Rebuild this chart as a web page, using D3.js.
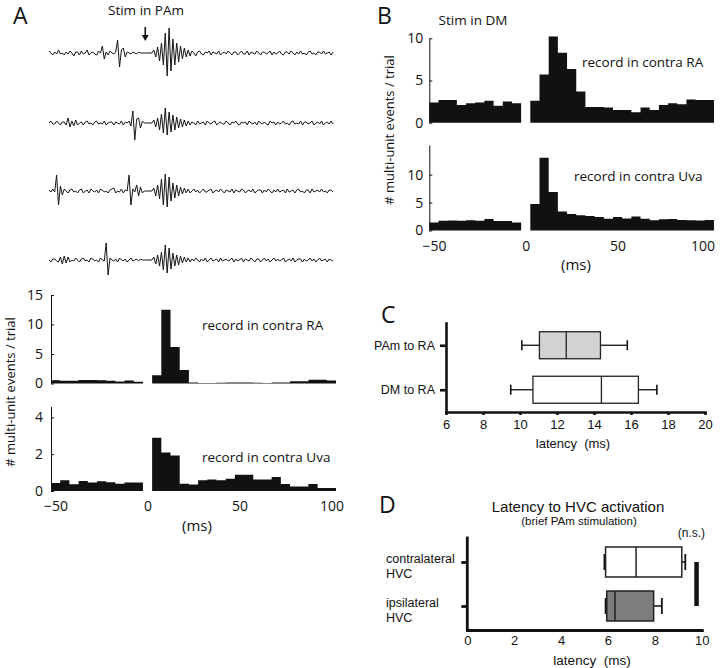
<!DOCTYPE html>
<html><head><meta charset="utf-8">
<script src="https://cdn.jsdelivr.net/npm/d3@7"></script>
<style>body{margin:0;background:#fff} svg{display:block}</style>
</head><body>
<svg id="c" width="720" height="668"></svg>
<script>
// ---------------- DATA ----------------
// PSTH bin centres (ms), 5 ms bins
const binCenters = [-50,-45,-40,-35,-30,-25,-20,-15,-10,-5,0,5,10,15,20,25,30,35,40,45,50,55,60,65,70,75,80,85,90,95,100];
const binWidth = 5;
const psthXTicks = [-50, 0, 50, 100];

// Panel A: stim in PAm
const aRA  = [0.55,0.45,0.45,0.6,0.6,0.55,0.45,0.35,0.5,0.3,0,1.4,12.5,6.2,2.3,0.15,0.1,0.1,0.12,0.15,0.15,0.15,0.12,0.1,0.15,0.15,0.4,0.4,0.65,0.65,0.5];
const aUva = [0.44,0.58,0.37,0.55,0.46,0.53,0.47,0.4,0.46,0.46,0,2.9,2.1,1.93,0.4,0.35,0.58,0.62,0.58,0.67,0.89,0.89,0.62,0.62,0.76,0.38,0.24,0.24,0.38,0.16,0.16];
const aRATicks = [0,5,10,15];
const aUvaTicks = [0,2,4];

// Panel B: stim in DM
const bRA  = [2.4,2.7,2.7,2.1,2.3,2.4,2.6,2.0,2.5,2.3,0,2.6,5.7,10.2,8.3,6.35,3.7,1.85,1.85,1.8,1.5,1.5,1.25,1.8,1.5,2.1,2.3,2.2,2.75,2.7,2.7];
const bUva = [1.45,1.75,1.8,1.75,1.85,1.75,2.05,1.7,1.7,1.45,0,4.75,13.0,6.9,3.4,2.95,2.75,2.6,2.4,2.1,2.4,2.15,2.5,2.1,1.85,2.0,2.05,1.9,1.85,1.8,1.9];
const bRATicks = [0,5,10];
const bUvaTicks = [0,5,10];

// Panel A raw traces (1 ms samples from traceStart)
const traceStart = -52, traceStep = 1, stimTime = -1.5;
const trace1 = [2,0,-2,1,-1,3,-1,0,-2,1, -1,2,0,-3,1,1,-2,2,-1,0, 3,-2,0,1,-1,-2,2,0,7,-6, 1,-2,2,0,-1,1,13,-14,3,5, -4,1,0,-1,1,0,-1,1,0,0, 0,0,0,0,0,
 3,-4,6,-8,10,-12,20,-23,25,-18, 14,-12,10,-9,7,-6,5,-4,3,-3, 2,0,-3,1,2,-1,-2,1,0,2, -2,1,0,-1,2,-2,0,1,-1,2, 0,-2,1,1,-2,0,2,-1,-1,2, -2,1,0,-1,2,0,-2,1,1,-1,
 0,2,-2,1,-1,0,2,-1,-2,1, 1,-1,2,0,-2,1,-1,2,-1,0, -2,1,2,-1,0,-2,1,1,-1,2, -1,0,1,-2,1];
const trace2 = [0,2,-1,-1,2,0,-2,1,1,-2, 5,-4,2,-3,3,-2,0,1,-2,1, 2,-1,0,-2,1,2,-1,0,-1,2, -2,0,1,1,-2,1,0,-1,2,-2, 1,0,2,-3,12,-17,4,5,-5,2, 0,0,0,0,0,
 3,-4,5,-7,9,-10,15,-12,11,-9, 8,-7,6,-5,4,-4,3,-3,2,-2, 1,0,-2,2,-1,0,1,-2,2,0, -1,1,2,-2,0,1,-1,-1,2,0, -2,1,0,2,-1,-2,1,0,1,-2, 2,0,-1,1,-2,2,0,-1,1,-1,
 -2,2,0,1,-2,1,-1,0,2,-1, 0,-2,1,2,-1,0,-1,2,-2,1, 1,-1,0,2,-2,0,1,-1,2,-2, 0,1,-1,2,-1];
const trace3 = [1,-1,2,-1,16,-14,5,-4,2,0, -2,1,2,-1,0,-2,1,2,-2,0, 1,-2,2,0,-1,1,-2,2,1,-1, 0,-2,1,2,3,-2,0,-1,2,-2, 1,0,16,-14,2,-1,6,-5,4,-2, 0,0,0,0,0,
 3,-5,6,-8,12,-14,17,-16,14,-10, 8,-7,6,-5,4,-3,3,-2,2,-2, 0,2,-1,1,-2,0,2,-1,-1,1, 2,-2,0,1,-1,2,0,-2,1,0, -1,2,-2,1,0,-1,2,1,-2,0, 1,-1,2,-2,0,1,1,-2,1,-1,
 2,0,-2,1,-1,2,-1,0,1,-2, 2,-1,0,1,-2,1,2,-1,0,-2, 1,1,-2,2,-1,0,1,-1,2,-1, 0,-2,1,1,-1];
const trace4 = [0,-2,1,1,-1,-2,3,-4,4,-3, 3,-2,0,-1,2,0,-2,1,2,-1, 0,-2,2,1,-1,0,-2,2,0,-1, 17,-15,2,0,-1,1,-2,2,0,-1, 1,-2,0,2,-1,0,1,-1,1,0, 0,0,0,0,0,
 3,-4,5,-6,8,-10,15,-13,12,-9, 7,-6,5,-5,4,-3,3,-2,2,-2, 1,-1,2,0,-2,1,-1,2,-2,0, 2,-1,0,1,-2,2,-1,0,1,-1, 0,2,-2,1,-1,0,2,-2,1,0, -1,2,0,-2,1,1,-2,0,2,-1,
 1,-2,0,2,-1,1,-1,0,2,-2, 0,1,-1,2,-2,0,1,1,-2,1, -1,0,2,-1,1,-2,0,2,-1,0, 1,-2,1,0,-1];
const traces = [trace1, trace2, trace3, trace4];

// Panel C: latency boxplots
const cCats = ["PAm to RA", "DM to RA"];
const cMin = [10.1, 9.5], cQ1 = [11.05, 10.7], cMed = [12.5, 14.4], cQ3 = [14.35, 16.4], cMax = [15.8, 17.4];
const cFill = ["#d2d2d2", "#ffffff"];
const cXTicks = [6,8,10,12,14,16,18,20];

// Panel D: latency to HVC
const dCats = ["contralateral HVC", "ipsilateral HVC"];
const dMin = [5.85, 5.9], dQ1 = [5.9, 5.95], dMed = [7.2, 6.3], dQ3 = [9.15, 7.95], dMax = [9.3, 8.3];
const dFill = ["#ffffff", "#7d7d7d"];
const dXTicks = [0,2,4,6,8,10];
const dSigX = 9.78;

// ---------------- DRAW ----------------
const svg = d3.select("#c");
const FA = "'Open Sans', 'DejaVu Sans', sans-serif";
const FC = "'Liberation Sans', Arial, sans-serif";
const INK = "#111";

function txt(x, y, s, o = {}) {
  return svg.append("text").attr("x", x).attr("y", y).text(s)
    .attr("font-family", o.font || FA).attr("font-size", o.size || 13)
    .attr("text-anchor", o.anchor || "start").attr("dominant-baseline", "central")
    .attr("fill", INK).attr("transform", o.rot ? `rotate(${o.rot},${x},${y})` : null);
}

const hw = binWidth / 2;
const histDomain = [binCenters[0] - hw, binCenters[binCenters.length - 1] + hw];

function histogram(vals, xr, yr, ydom, ticks, pad, xLab) {
  const x = d3.scaleLinear().domain(histDomain).range(xr);
  const y = d3.scaleLinear().domain(ydom).range(yr);
  const g = svg.append("g");
  const pts = binCenters.map((c, i) => ({ e: c - hw, v: vals[i] }));
  pts.push({ e: binCenters[binCenters.length - 1] + hw, v: vals[vals.length - 1] });
  g.append("path").datum(pts)
    .attr("d", d3.area().curve(d3.curveStepAfter).x(d => x(d.e)).y0(y(0)).y1(d => y(d.v)))
    .attr("fill", INK);
  const ax = g.append("g").attr("transform", `translate(${xr[0]},0)`)
    .call(d3.axisLeft(y).tickValues(ticks).tickSize(-3).tickSizeOuter(0).tickPadding(pad).tickFormat(d3.format("d")));
  ax.select(".domain").attr("stroke", INK);
  ax.selectAll(".tick line").attr("stroke", INK);
  ax.selectAll("text").attr("font-family", FA).attr("font-size", 14).attr("fill", INK);
  let bx = null;
  if (xLab) {
    bx = g.append("g").attr("transform", `translate(0,${yr[0]})`)
      .call(d3.axisBottom(x).tickValues(psthXTicks).tickSize(0).tickPadding(xLab));
    bx.select(".domain").remove();
    bx.selectAll("text").attr("font-family", FA).attr("font-size", 14).attr("fill", INK);
  }
  return bx;
}

// ---- Panel A ----
txt(13, 15, "A", { size: 23 });
txt(146, 10, "Stim in PAm", { size: 13.5, anchor: "middle" });
const tx = d3.scaleLinear().domain([traceStart, traceStart + (trace1.length - 1) * traceStep]).range([49, 333]);
const traceCenters = [53, 123, 191, 260];
traces.forEach((tr, k) => {
  const ty = d3.scaleLinear().domain([-1, 1]).range([traceCenters[k] + 1, traceCenters[k] - 1]);
  svg.append("path").datum(tr)
    .attr("d", d3.line().x((d, i) => tx(traceStart + i * traceStep)).y(d => ty(d)))
    .attr("fill", "none").attr("stroke", "#151515").attr("stroke-width", 1).attr("stroke-linejoin", "round");
});
// stimulus arrow
const ax0 = tx(stimTime);
svg.append("line").attr("x1", ax0).attr("x2", ax0).attr("y1", 27).attr("y2", 37).attr("stroke", INK).attr("stroke-width", 1.6);
svg.append("path").attr("d", `M${ax0 - 3.5},35 L${ax0 + 3.5},35 L${ax0},41 Z`).attr("fill", INK);

histogram(aRA, [51, 336], [383.5, 295], [0, 15], aRATicks, 8, null);
histogram(aUva, [51, 336], [491, 406.4], [0, 4.6], aUvaTicks, 8, 10);
txt(202, 325, "record in contra RA", { size: 13.5 });
txt(202, 457, "record in contra Uva", { size: 13.5 });
txt(197, 525, "(ms)", { size: 15, anchor: "middle" });
txt(10, 392, "# multi-unit events / trial", { size: 13, anchor: "middle", rot: -90 });

// ---- Panel B ----
txt(377, 15, "B", { size: 23 });
txt(473, 20, "Stim in DM", { size: 13.5, anchor: "middle" });
histogram(bRA, [429.3, 714], [122.7, 38.3], [0, 10], bRATicks, 6, null);
const bbx = histogram(bUva, [429.3, 714], [230.5, 145], [0, 15.3], bUvaTicks, 6, 11);
// keep the last tick label inside the picture
bbx.selectAll(".tick").filter(d => d === psthXTicks[psthXTicks.length - 1]).select("text")
  .attr("text-anchor", "end").attr("x", 720 - 1 - 714);
txt(582, 62, "record in contra RA", { size: 13.5 });
txt(574, 176, "record in contra Uva", { size: 13.5 });
txt(576, 264, "(ms)", { size: 15, anchor: "middle" });
txt(389, 130, "# multi-unit events / trial", { size: 13, anchor: "middle", rot: -90 });

// ---- Box plot helper ----
function boxplot(x, y, cats, mn, q1, md, q3, mx, fills, bh, ch, sw) {
  const g = svg.append("g");
  cats.forEach((c, i) => {
    const cy = y(c);
    g.append("line").attr("x1", x(mn[i])).attr("x2", x(q1[i])).attr("y1", cy).attr("y2", cy).attr("stroke", INK).attr("stroke-width", sw);
    g.append("line").attr("x1", x(q3[i])).attr("x2", x(mx[i])).attr("y1", cy).attr("y2", cy).attr("stroke", INK).attr("stroke-width", sw);
    g.append("line").attr("x1", x(mn[i])).attr("x2", x(mn[i])).attr("y1", cy - ch / 2).attr("y2", cy + ch / 2).attr("stroke", INK).attr("stroke-width", sw + 0.3);
    g.append("line").attr("x1", x(mx[i])).attr("x2", x(mx[i])).attr("y1", cy - ch / 2).attr("y2", cy + ch / 2).attr("stroke", INK).attr("stroke-width", sw + 0.3);
    g.append("rect").attr("x", x(q1[i])).attr("width", x(q3[i]) - x(q1[i])).attr("y", cy - bh / 2).attr("height", bh)
      .attr("fill", fills[i]).attr("stroke", "#222").attr("stroke-width", sw);
    g.append("line").attr("x1", x(md[i])).attr("x2", x(md[i])).attr("y1", cy - bh / 2).attr("y2", cy + bh / 2).attr("stroke", "#222").attr("stroke-width", sw);
  });
}

// ---- Panel C ----
txt(381, 314, "C", { size: 23 });
const xC = d3.scaleLinear().domain([6, 20]).range([446, 705]);
const yC = d3.scalePoint().domain(cCats).range([323, 412]).padding(0.5);
boxplot(xC, yC, cCats, cMin, cQ1, cMed, cQ3, cMax, cFill, 27, 10, 1.3);
const cxa = svg.append("g").attr("transform", "translate(0,412)")
  .call(d3.axisBottom(xC).tickValues(cXTicks).tickSize(3).tickSizeOuter(0).tickPadding(5));
const cya = svg.append("g").attr("transform", "translate(446,0)")
  .call(d3.axisLeft(yC).tickSize(6).tickSizeOuter(0).tickPadding(5));
[cxa, cya].forEach(a => {
  a.select(".domain").attr("stroke", INK).attr("stroke-width", 2.6).attr("stroke-linecap", "square");
  a.selectAll(".tick line").attr("stroke", INK).attr("stroke-width", 2.6);
  a.selectAll("text").attr("font-family", FC).attr("font-size", 12.5).attr("fill", INK);
});
cxa.selectAll("text").attr("font-size", 13);
txt(573, 443, "latency\u00a0\u00a0(ms)", { font: FC, size: 13, anchor: "middle" });

// ---- Panel D ----
txt(379, 504, "D", { size: 23 });
txt(578, 506, "Latency to HVC activation", { font: FC, size: 15, anchor: "middle" });
txt(579, 521, "(brief PAm stimulation)", { font: FC, size: 11.5, anchor: "middle" });
txt(705, 533, "(n.s.)", { font: FC, size: 12, anchor: "end" });
const xD = d3.scaleLinear().domain([0, 10]).range([467.3, 701.7]);
const yD = d3.scalePoint().domain(dCats).range([540, 628]).padding(0.5);
boxplot(xD, yD, dCats, dMin, dQ1, dMed, dQ3, dMax, dFill, 30, 16, 1.5);
const dxa = svg.append("g").attr("transform", "translate(0,630)")
  .call(d3.axisBottom(xD).tickValues(dXTicks).tickSize(2).tickSizeOuter(0).tickPadding(4));
const dya = svg.append("g").attr("transform", "translate(467.3,0)")
  .call(d3.axisLeft(yD).tickSize(6).tickSizeOuter(0).tickFormat(""));
[dxa, dya].forEach(a => {
  a.select(".domain").attr("stroke", INK).attr("stroke-width", 2.8).attr("stroke-linecap", "square");
  a.selectAll(".tick line").attr("stroke", INK).attr("stroke-width", 2.8);
  a.selectAll("text").attr("font-family", FC).attr("font-size", 13).attr("fill", INK);
});
dya.select(".domain").attr("d", "M0,538V630");
dCats.forEach(c => {
  const [l1, l2] = c.split(" ");
  txt(386, yD(c) - 3.5, l1, { font: FC, size: 12.5 });
  txt(386, yD(c) + 12, l2, { font: FC, size: 12.5 });
});
svg.append("line").attr("x1", xD(dSigX)).attr("x2", xD(dSigX))
  .attr("y1", yD(dCats[0])).attr("y2", yD(dCats[1])).attr("stroke", INK).attr("stroke-width", 4.5);
txt(592, 660, "latency\u00a0\u00a0(ms)", { font: FC, size: 13.5, anchor: "middle" });
</script>
</body></html>
